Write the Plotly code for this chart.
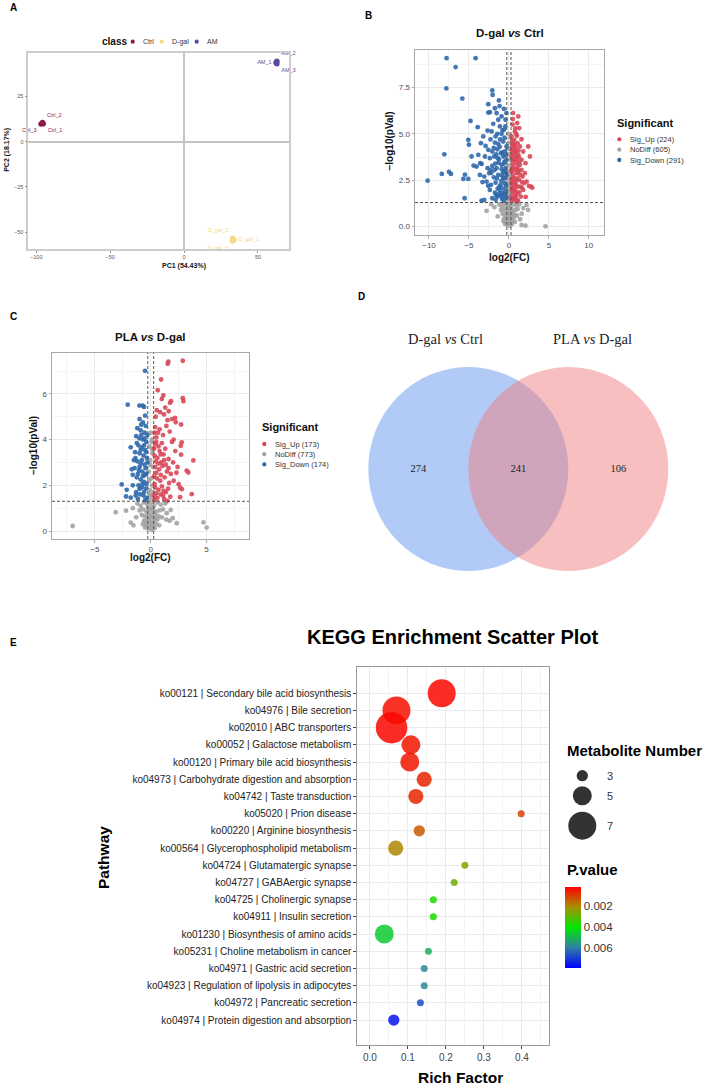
import plotly.graph_objects as go
import numpy as np

W, H = 709, 1085
def px(x): return x / W
def py(y): return 1 - y / H

FONT = "Liberation Sans, Arial, sans-serif"
SERIF = "Liberation Serif, Times New Roman, serif"

# ---------------- DATA ----------------
# Panel A: PCA scores
pca_groups = ["Ctrl", "D-gal", "AM"]
pca_colors = ["#8E1A4B", "#F3D98A", "#5A4A9C"]
pca_names = [["Ctrl_1", "Ctrl_2", "Ctrl_3"], ["D_gal_1", "D_gal_2", "D_gal_3"], ["AM_1", "AM_2", "AM_3"]]
pca_pc1 = [[-95.3, -95.8, -96.8], [33.8, 33.0, 32.7], [62.2, 62.8, 62.8]]
pca_pc2 = [[9.9, 10.6, 9.8], [-54.4, -53.4, -55.0], [43.6, 44.5, 43.1]]
pca_textpos = [["bottom right", "top right", "bottom left"],
               ["middle right", "top left", "bottom left"],
               ["middle left", "top right", "bottom right"]]

# Panel B: volcano D-gal vs Ctrl  (log2FC, -log10 p)
b_counts = [224, 605, 291]
b_up = [(0.54,6.12),(1.17,5.94),(1.04,5.58),(1.29,5.31),(1.58,4.71),(2.42,4.32),(2.63,3.78),(2.75,2.16),(2.92,2.1),
        (2.08,3.42),(1.79,4.05),(1.58,3.6),(1.38,3.33),(2.0,2.88),(2.21,2.43),(1.79,1.98),(1.5,1.62),(0.96,1.44),
        (0.33,1.47),(0.75,5.13),(0.33,4.86),(0.67,4.68),(1.08,4.5),(0.42,4.32),(0.88,4.23),(1.38,4.32),(0.58,3.96),
        (1.17,3.87),(0.33,3.78),(0.83,3.6),(0.54,3.33),(1.08,3.24),(1.58,3.06),(0.42,2.97),(0.96,2.88),(0.67,2.61),
        (1.25,2.52),(0.33,2.34),(0.88,2.25),(1.42,2.16),(0.54,1.89),(1.08,1.8),(0.33,1.62),(0.75,1.53),
        (0.45,5.5),(0.9,5.0),(0.6,4.45),(1.2,4.1),(0.35,4.1),(0.75,4.0),(1.0,3.7),(0.5,3.55),(1.3,3.5),(0.4,3.15),
        (0.7,3.1),(1.15,2.95),(1.7,2.7),(0.5,2.75),(0.85,2.45),(1.05,2.15),(0.4,2.1),(0.65,2.0),(1.3,1.85),(0.9,1.65),
        (0.45,1.45),(1.9,2.35),(2.5,2.2),(1.6,2.1),(0.3,3.0),(0.6,2.4),(1.0,4.9),(0.8,5.3),(1.15,1.4),(2.1,1.6),
        (0.4,4.6),(0.55,4.2),(0.7,3.8),(0.95,3.45),(1.2,3.0),(0.35,2.55),(0.6,2.2),(0.8,1.95),(1.1,2.6),(1.4,2.8),
        (0.45,3.65),(0.9,4.05),(1.25,3.75),(0.65,1.7),(0.38,1.95),(1.0,1.35),(1.65,2.4),(0.5,5.8),(0.75,4.4),(1.05,3.1)]
b_nodiff = [(0.0,4.5),(0.1,4.2),(-0.15,3.9),(0.2,3.6),(-0.05,3.3),(0.12,3.0),(-0.2,2.8),(0.05,2.5),(0.18,2.2),
            (-0.1,2.0),(0.0,1.8),(0.15,1.6),(-0.18,1.5),(0.08,1.35),(-0.05,5.0),(0.2,4.8),
            (-1.2,1.2),(-0.9,1.1),(-0.6,1.25),(-0.3,1.15),(0.0,1.2),(0.3,1.1),(0.6,1.25),(0.9,1.15),(1.3,1.2),
            (-1.0,0.9),(-0.7,0.95),(-0.4,0.85),(-0.1,0.9),(0.2,0.95),(0.5,0.85),(0.8,0.9),(1.1,0.95),(-0.8,0.7),
            (-0.5,0.65),(-0.2,0.7),(0.1,0.6),(0.4,0.7),(0.7,0.65),(1.0,0.6),(-0.6,0.45),(-0.3,0.5),(0.0,0.4),
            (0.3,0.45),(0.6,0.5),(-0.4,0.25),(-0.1,0.3),(0.2,0.2),(0.5,0.3),(-0.2,0.1),(0.1,0.05),(0.35,0.12),
            (-0.5,0.15),(0.0,0.15),(-1.4,0.55),(1.4,0.4),
            (-0.25,1.0),(0.25,0.8),(-0.15,0.55),(0.15,0.35),(-0.35,0.35),(0.45,0.55),(-0.7,0.3),(0.75,0.25),
            (0.0,0.7),(0.05,1.0),(-0.05,2.3),(0.1,3.9),(-0.1,4.2),(0.0,2.7),
            (-2.8,0.85),(4.58,0.02),(1.58,0.09),(2.08,0.05),(2.2,1.17),(2.4,0.9),(1.8,1.0),(-1.8,1.05),(-2.2,1.2),(1.6,0.7)]
b_down = [(-7.8,9.08),(-4.17,9.08),(-6.67,8.6),(-7.83,7.45),(-5.83,6.9),(-2.08,7.34),(-2.04,7.1),(-2.58,6.6),
          (-1.25,6.8),(-4.8,5.7),(-3.9,5.36),(-5.08,4.68),(-5.0,4.42),(-8.08,3.9),(-4.67,3.78),(-8.4,2.84),(-7.5,2.95),
          (-7.25,2.84),(-10.17,2.48),(-5.7,2.57),(-5.5,2.8),(-5.08,2.57),(-5.54,1.53),(-3.42,1.4),(-4.42,3.29),(-3.58,3.42),
          (-2.58,6.15),(-2.38,6.17),(-1.75,6.38),(-1.54,6.12),(-1.17,6.5),(-0.63,6.35),(-0.31,6.12),(-0.92,5.94),
          (-1.33,5.76),(-1.96,5.54),(-2.67,5.18),(-2.17,5.13),(-1.13,5.4),(-0.63,5.22),(-0.42,5.76),(-3.21,4.86),
          (-1.67,4.86),(-0.92,5.0),(-3.5,4.5),(-2.92,4.35),(-1.75,4.53),(-1.33,4.46),(-0.71,4.59),(-0.3,4.32),
          (-2.58,4.14),(-2.08,4.05),(-1.46,4.17),(-1.0,3.96),(-0.5,4.05),(-3.83,3.87),(-3.0,3.78),(-2.38,3.69),
          (-1.83,3.78),(-1.25,3.63),(-0.71,3.78),(-0.3,3.6),(-4.04,3.24),(-3.42,3.38),(-2.67,3.15),(-2.08,3.27),
          (-1.54,3.15),(-0.92,3.33),(-0.42,3.15),(-3.63,2.79),(-3.08,2.7),(-2.46,2.88),(-1.88,2.66),(-1.33,2.79),
          (-0.71,2.61),(-0.29,2.79),(-2.79,2.43),(-2.25,2.25),(-1.67,2.37),(-1.04,2.23),(-0.5,2.34),(-2.38,1.98),
          (-1.75,1.83),(-1.17,1.98),(-0.63,1.8),(-2.08,1.53),(-1.42,1.62),(-0.83,1.47),(-0.29,1.58),(-3.08,1.44),
          (-1.9,4.25),(-1.6,3.9),(-1.3,3.45),(-1.1,4.7),(-0.85,4.0),(-0.55,3.5),(-0.4,2.95),(-1.5,2.6),(-1.2,2.15),
          (-0.95,2.45),(-0.7,2.05),(-0.45,1.7),(-1.8,3.05),(-1.4,3.7),(-1.05,1.65),(-0.75,2.9),(-0.35,2.2),
          (-2.2,2.9),(-1.65,1.45),(-1.25,1.75),(-0.9,3.1),(-0.6,1.4),
          (-0.45,5.4),(-0.8,5.2),(-1.45,5.0),(-2.3,4.7),(-0.55,4.8),(-1.15,4.3),(-0.4,3.85),(-0.65,3.4),(-1.7,3.4),
          (-2.3,3.05),(-0.5,2.6),(-0.85,2.75),(-1.4,2.05),(-0.35,1.9),(-0.95,1.8),(-1.6,1.7),(-2.6,2.2),(-0.75,1.6),
          (-3.3,2.4),(-0.55,3.0)]

# Panel C: volcano PLA vs D-gal
c_counts = [173, 773, 174]
c_up = [(1.58,7.41),(1.52,7.32),(2.87,7.45),(0.93,6.63),(1.13,5.93),(0.63,6.16),(0.99,5.78),(1.82,5.68),(1.73,5.61),
        (2.87,5.81),(2.93,5.68),(0.54,5.29),(0.84,5.2),(1.19,5.1),(1.61,5.24),(2.18,4.95),(2.24,4.76),(2.72,4.66),
        (2.78,3.88),(2.69,3.73),(2.72,3.34),(3.82,3.09),(3.22,2.64),(3.37,2.56),(3.67,1.61),(2.63,1.9),(2.78,1.83),
        (2.63,1.48),(1.49,1.32),
        (0.35,4.3),(0.5,4.1),(0.8,4.45),(1.1,4.2),(1.4,4.6),(1.7,4.35),(0.4,3.8),(0.7,3.7),(1.0,3.85),(1.3,3.6),
        (1.9,3.9),(2.2,3.5),(0.35,3.3),(0.6,3.2),(0.9,3.35),(1.2,3.1),(1.6,3.15),(2.0,3.0),(2.4,2.8),(0.4,2.8),
        (0.75,2.7),(1.05,2.85),(1.45,2.6),(1.8,2.5),(2.3,2.55),(0.3,2.4),(0.55,2.3),(0.85,2.2),(1.25,2.35),
        (1.65,2.1),(2.05,2.2),(0.4,1.9),(0.7,1.8),(1.0,1.95),(1.35,1.7),(0.3,1.55),(0.6,1.45),(0.9,1.6),(1.2,1.4),
        (1.75,1.5),(0.45,5.0),(1.3,5.4),(1.9,4.9),(1.5,4.85),(0.3,3.6),(0.95,3.0),(0.5,2.55),(2.5,2.05),(1.55,1.85),
        (0.35,1.35),
        (0.5,3.9),(0.8,3.5),(1.15,3.35),(0.45,3.05),(0.7,2.95),(1.35,2.9),(0.35,2.05),(0.9,2.45),(1.15,1.75),
        (0.5,1.65),(1.6,2.75),(0.65,4.3),(2.05,4.0),(0.4,4.55),(1.1,1.55)]
c_nodiff = [(0.0,4.3),(0.1,4.0),(-0.12,3.7),(0.15,3.4),(-0.05,3.1),(0.2,2.8),(-0.18,2.6),(0.05,2.3),(0.12,2.0),
            (-0.1,1.8),(0.0,1.55),(0.18,1.4),(-0.2,1.35),(0.08,3.9),(-0.15,2.2),
            (-1.2,1.2),(-0.9,1.1),(-0.6,1.25),(-0.3,1.15),(0.0,1.2),(0.3,1.1),(0.6,1.25),(0.9,1.15),(1.3,1.2),
            (-1.0,0.9),(-0.7,0.95),(-0.4,0.85),(-0.1,0.9),(0.2,0.95),(0.5,0.85),(0.8,0.9),(1.1,0.95),(-0.8,0.7),
            (-0.5,0.65),(-0.2,0.7),(0.1,0.6),(0.4,0.7),(0.7,0.65),(1.0,0.6),(-0.6,0.45),(-0.3,0.5),(0.0,0.4),
            (0.3,0.45),(0.6,0.5),(-0.4,0.25),(-0.1,0.3),(0.2,0.2),(0.5,0.3),(-0.2,0.1),(0.1,0.05),(0.35,0.12),
            (-0.5,0.15),(0.0,0.15),(1.4,0.5),
            (-0.25,1.0),(0.25,0.8),(-0.15,0.55),(0.15,0.35),(-0.35,0.35),(0.45,0.55),(-0.7,0.3),(0.75,0.25),
            (0.0,0.7),(0.05,1.0),(-0.05,2.9),(0.1,3.6),(-0.1,1.6),(0.2,1.7),(1.7,0.45),(-1.3,0.6),
            (-6.99,0.22),(-3.13,0.82),(-2.21,0.89),(-1.79,0.37),(-1.55,0.25),(4.72,0.38),(5.01,0.15),(2.33,0.34),
            (1.97,0.56),(1.79,0.92),(1.43,0.78),(-1.6,1.0)]
c_down = [(-0.51,7.01),(-2.06,5.53),(-1.01,5.49),(-0.72,5.49),(-0.6,5.43),(-1.79,3.66),(-1.37,3.19),(-1.61,2.46),
          (-2.6,2.04),(-2.15,1.8),(-2.21,1.51),(-1.79,1.46),
          (-1.0,4.9),(-0.7,4.75),(-0.45,4.6),(-1.2,4.5),(-0.9,4.4),(-0.55,4.3),(-1.3,4.15),(-1.0,4.05),(-0.7,4.0),
          (-0.4,3.9),(-1.1,3.75),(-0.8,3.65),(-0.5,3.55),(-1.4,3.45),(-1.0,3.4),(-0.65,3.3),(-0.35,3.2),(-1.2,3.05),
          (-0.9,2.95),(-0.55,2.9),(-1.45,2.75),(-1.05,2.65),(-0.75,2.6),(-0.4,2.5),(-1.25,2.35),(-0.9,2.25),
          (-0.6,2.15),(-1.1,2.0),(-0.8,1.9),(-0.45,1.85),(-1.3,1.7),(-0.95,1.6),(-0.65,1.55),(-0.35,1.45),
          (-1.15,1.4),(-0.85,4.65),(-0.6,3.75),(-0.3,4.2),(-1.5,3.1),(-0.45,2.75),(-0.7,2.4),(-1.0,1.85),
          (-0.5,1.35),(-1.6,2.0),(-0.3,3.0),
          (-0.5,5.05),(-0.85,4.2),(-0.55,4.05),(-1.25,3.85),(-0.4,3.45),(-0.8,3.1),(-1.15,2.5),(-0.55,2.45),
          (-0.75,2.05),(-1.0,2.8),(-0.4,2.05),(-0.6,1.7),(-1.35,1.55),(-0.9,3.55),(-1.7,2.7)]

sig_names = ["Sig_Up", "NoDiff", "Sig_Down"]
sig_colors = ["#D8485A", "#A3A3A3", "#2F69AD"]
fc_cut = 0.263
p_cut = 1.301

# Panel D: Venn
venn_sets = ["D-gal <i>vs</i> Ctrl", "PLA <i>vs</i> D-gal"]
venn_counts = [274, 241, 106]   # only set 1, shared, only set 2

# Panel E: KEGG enrichment
kegg_ids = ["ko00121", "ko04976", "ko02010", "ko00052", "ko00120", "ko04973", "ko04742", "ko05020", "ko00220",
            "ko00564", "ko04724", "ko04727", "ko04725", "ko04911", "ko01230", "ko05231", "ko04971", "ko04923",
            "ko04972", "ko04974"]
kegg_names = ["Secondary bile acid biosynthesis", "Bile secretion", "ABC transporters", "Galactose metabolism",
              "Primary bile acid biosynthesis", "Carbohydrate digestion and absorption", "Taste transduction",
              "Prion disease", "Arginine biosynthesis", "Glycerophospholipid metabolism", "Glutamatergic synapse",
              "GABAergic synapse", "Cholinergic synapse", "Insulin secretion", "Biosynthesis of amino acids",
              "Choline metabolism in cancer", "Gastric acid secretion", "Regulation of lipolysis in adipocytes",
              "Pancreatic secretion", "Protein digestion and absorption"]
rich_factor = [0.189, 0.070, 0.057, 0.108, 0.105, 0.143, 0.121, 0.398, 0.130, 0.068,
               0.250, 0.222, 0.167, 0.167, 0.038, 0.154, 0.143, 0.143, 0.133, 0.063]
metab_num = [7, 7, 8, 5, 5, 4, 4, 2, 3, 4, 2, 2, 2, 2, 5, 2, 2, 2, 2, 3]
p_value = [0.0003, 0.0004, 0.0003, 0.0005, 0.0005, 0.0007, 0.0007, 0.0011, 0.0014, 0.0020,
           0.0024, 0.0028, 0.0037, 0.0037, 0.0046, 0.0051, 0.0058, 0.0058, 0.0067, 0.0076]
size_breaks = [3, 5, 7]
p_ticks = [0.002, 0.004, 0.006]
p_lo, p_hi = 0.0002, 0.0079

def bubble_d(n):
    return float(np.interp(n, [2, 3, 5, 7, 8], [7.0, 11.3, 19.0, 28.0, 31.5]))

# ---------------- FIGURE ----------------
fig = go.Figure()

# A
for g, col, names, xs, ys, tp in zip(pca_groups, pca_colors, pca_names, pca_pc1, pca_pc2, pca_textpos):
    fig.add_trace(go.Scatter(x=xs, y=ys, mode="markers+text", text=names, textposition=tp,
                             textfont=dict(size=5.5, color=col, family=FONT),
                             marker=dict(size=5.5, color=col), xaxis="x", yaxis="y", showlegend=False,
                             cliponaxis=False))

# B and C volcano (draw NoDiff first, then Up, then Down)
def add_volcano(up, nodiff, down, xa, ya):
    for pts, col in [(nodiff, sig_colors[1]), (up, sig_colors[0]), (down, sig_colors[2])]:
        fig.add_trace(go.Scatter(x=[p[0] for p in pts], y=[p[1] for p in pts], mode="markers",
                                 marker=dict(size=4.8, color=col, opacity=0.9, line=dict(width=0)),
                                 xaxis=xa, yaxis=ya, showlegend=False))

add_volcano(b_up, b_nodiff, b_down, "x2", "y2")
add_volcano(c_up, c_nodiff, c_down, "x3", "y3")

# D venn counts
fig.add_trace(go.Scatter(x=[-1.0, 0.0, 1.0], y=[0, 0, 0], mode="text", text=[str(v) for v in venn_counts],
                         textfont=dict(size=10.5, family=SERIF, color="#222"), xaxis="x4", yaxis="y4",
                         showlegend=False))

# E bubbles
labels = [f"{i} | {n}" for i, n in zip(kegg_ids, kegg_names)]
cscale = [[0.0, "#0000FF"], [0.25, "#2F7FA8"], [0.5, "#00E800"], [0.75, "#A89000"], [1.0, "#FF0000"]]
fig.add_trace(go.Scatter(
    x=rich_factor, y=labels, mode="markers", xaxis="x5", yaxis="y5", showlegend=False,
    marker=dict(size=[bubble_d(n) for n in metab_num], sizemode="diameter", opacity=0.85,
                color=[-p for p in p_value], cmin=-p_hi, cmax=-p_lo, colorscale=cscale, line=dict(width=0),
                colorbar=dict(x=px(565), xanchor="left", xpad=0, y=py(887.3), yanchor="top", ypad=0,
                              len=81, lenmode="pixels", thickness=16, thicknessmode="pixels",
                              outlinewidth=0, ticks="", tickvals=[-t for t in p_ticks],
                              ticktext=[f"{t:.3f}" for t in p_ticks],
                              tickfont=dict(size=11.5, color="#333", family=FONT)))))

# ---------------- AXES ----------------
def frame(col):
    return dict(showline=True, mirror=True, linecolor=col, automargin=False)

lay = dict(
    width=W, height=H, margin=dict(l=0, r=0, t=0, b=0), template="none",
    paper_bgcolor="white", plot_bgcolor="white", font=dict(family=FONT, color="#222"),
    showlegend=False,
)
tickA = dict(size=5.5, color="#555", family=FONT)
lay["xaxis"] = dict(domain=[px(28.3), px(289)], range=[-105.4, 71], anchor="y", dtick=50, tick0=0,
                    showgrid=False, zeroline=True, zerolinecolor="#C4C4C4", zerolinewidth=1.5,
                    ticks="outside", ticklen=2, tickcolor="#999", tickfont=tickA, linewidth=1.5, **frame("#CDCDCD"))
lay["yaxis"] = dict(domain=[py(249), py(53)], range=[-59.4, 49], anchor="x", dtick=25, tick0=0,
                    showgrid=False, zeroline=True, zerolinecolor="#C4C4C4", zerolinewidth=1.5,
                    ticks="outside", ticklen=2, tickcolor="#999", tickfont=tickA, linewidth=1.5, **frame("#CDCDCD"))

tickV = dict(size=8, color="#4D4D4D", family=FONT)
def vaxis(domain, rng, anchor, dtick, minor, fmt=None):
    d = dict(domain=domain, range=rng, anchor=anchor, dtick=dtick, tick0=0, showgrid=True, gridcolor="#EBEBEB",
             gridwidth=1, minor=dict(dtick=minor, tick0=0, showgrid=True, gridcolor="#F5F5F5", gridwidth=0.6),
             zeroline=False, ticks="outside", ticklen=2.5, tickcolor="#AAAAAA", tickfont=tickV,
             linewidth=1, **frame("#A8A8A8"))
    if fmt:
        d["tickformat"] = fmt
    return d

lay["xaxis2"] = vaxis([px(415), px(604)], [-11.75, 11.9], "y2", 5, 2.5)
lay["yaxis2"] = vaxis([py(235), py(50)], [-0.45, 9.52], "x2", 2.5, 1.25, ".1f")
lay["xaxis3"] = vaxis([px(52), px(249)], [-8.84, 8.8], "y3", 5, 2.5)
lay["yaxis3"] = vaxis([py(539), py(353)], [-0.35, 7.79], "x3", 2, 1)

lay["xaxis4"] = dict(domain=[px(360), 1.0], range=[-1.583, 1.907], anchor="y4", visible=False, automargin=False)
lay["yaxis4"] = dict(domain=[py(580), py(300)], range=[-1.11, 1.69], anchor="x4", visible=False, automargin=False)

lay["xaxis5"] = dict(domain=[px(357.3), px(549.3)], range=[-0.033, 0.472], anchor="y5", dtick=0.1, tick0=0,
                     tickformat=".1f", showgrid=True, gridcolor="#EBEBEB",
                     minor=dict(dtick=0.05, tick0=0, showgrid=True, gridcolor="#F3F3F3"),
                     zeroline=False, ticks="outside", ticklen=3, tickcolor="#444",
                     tickfont=dict(size=10, color="#444", family=FONT), linewidth=1, **frame("#9A9A9A"))
lay["yaxis5"] = dict(domain=[py(1045), py(667.3)], type="category", categoryorder="array", categoryarray=labels,
                     range=[len(labels) - 1 + 1.45, -1.51], anchor="x5", showgrid=True, gridcolor="#EBEBEB",
                     zeroline=False, ticks="outside", ticklen=3, tickcolor="#444",
                     tickfont=dict(size=10, color="#222", family=FONT), linewidth=1, **frame("#9A9A9A"))

# ---------------- SHAPES ----------------
shapes = []
def dot(xp, yp, d, color):
    return dict(type="circle", xref="paper", yref="paper", xsizemode="pixel", ysizemode="pixel",
                xanchor=px(xp), yanchor=py(yp), x0=-d / 2, x1=d / 2, y0=-d / 2, y1=d / 2,
                fillcolor=color, line=dict(width=0), layer="above")

for xa, ya in [("x2", "y2"), ("x3", "y3")]:
    for v in (-fc_cut, fc_cut):
        shapes.append(dict(type="line", xref=xa, yref=f"{ya} domain", x0=v, x1=v, y0=0, y1=1,
                           line=dict(color="#555", width=1, dash="3px,2px"), layer="above"))
    shapes.append(dict(type="line", xref=f"{xa} domain", yref=ya, x0=0, x1=1, y0=p_cut, y1=p_cut,
                       line=dict(color="#555", width=1, dash="3px,2px"), layer="above"))

# Venn circles
shapes.append(dict(type="circle", xref="x4", yref="y4", x0=-1.5, x1=0.5, y0=-1.02, y1=1.02,
                   fillcolor="rgba(100,149,237,0.5)", line=dict(width=0), layer="below"))
shapes.append(dict(type="circle", xref="x4", yref="y4", x0=-0.5, x1=1.5, y0=-1.02, y1=1.02,
                   fillcolor="rgba(240,128,128,0.5)", line=dict(width=0), layer="below"))

# ---------------- ANNOTATIONS ----------------
ann = []
def text(xp, yp, s, size, bold=False, xanchor="center", angle=0, family=FONT, color="#111"):
    if bold:
        s = f"<b>{s}</b>"
    ann.append(dict(x=px(xp), y=py(yp), xref="paper", yref="paper", text=s, showarrow=False,
                    xanchor=xanchor, yanchor="middle", textangle=angle,
                    font=dict(size=size, family=family, color=color)))

# panel letters
for L, xx, yy in [("A", 13.3, 7.5), ("B", 368, 15), ("C", 13.3, 316), ("D", 361, 296), ("E", 13.3, 642.7)]:
    text(xx, yy, L, 10, bold=True, color="#000")

# A legend + titles
text(100, 41.7, "class", 10, bold=True, xanchor="left")
for g, col, dx, tx in zip(pca_groups, pca_colors, [132.7, 161.7, 196.7], [141.2, 169.8, 205.2]):
    shapes.append(dot(dx, 41.7, 4.2, col))
    text(tx, 41.9, g, 7, xanchor="left", color="#333")
text(184, 266, "PC1 (54.43%)", 7, bold=True)
text(6.8, 150, "PC2 (18.17%)", 7, bold=True, angle=-90)

# B titles + legend
text(509.5, 33, "D-gal <i>vs</i> Ctrl", 11.5, bold=True)
text(509.5, 257.5, "log2(FC)", 10, bold=True)
text(388.5, 141, "\u2212log10(pVal)", 10, bold=True, angle=-90)
text(615, 123, "Significant", 11, bold=True, xanchor="left")
for nm, col, cnt, yy in zip(sig_names, sig_colors, b_counts, [139.3, 149.7, 160]):
    shapes.append(dot(619.3, yy, 4.3, col))
    text(627.5, yy, f"{nm} ({cnt})", 7.5, xanchor="left", color="#333")

# C titles + legend
text(150.7, 336.5, "PLA <i>vs</i> D-gal", 11.5, bold=True)
text(150.7, 557, "log2(FC)", 10, bold=True)
text(33, 446, "\u2212log10(pVal)", 10, bold=True, angle=-90)
text(260, 427, "Significant", 11, bold=True, xanchor="left")
for nm, col, cnt, yy in zip(sig_names, sig_colors, c_counts, [444, 454.2, 464.4]):
    shapes.append(dot(264.3, yy, 4.3, col))
    text(272.5, yy, f"{nm} ({cnt})", 7.5, xanchor="left", color="#333")

# D set labels
text(445, 339, venn_sets[0], 14.5, family=SERIF, color="#222")
text(592, 339, venn_sets[1], 14.5, family=SERIF, color="#222")

# E titles + legends
text(453, 637, "KEGG Enrichment Scatter Plot", 20, bold=True, color="#000")
text(103, 858, "Pathway", 15.5, bold=True, angle=-90, color="#000")
text(460, 1077, "Rich Factor", 15.5, bold=True, color="#000")
text(565, 750, "Metabolite Number", 15, bold=True, xanchor="left", color="#000")
for n, yy in zip(size_breaks, [775.7, 795.7, 825.7]):
    shapes.append(dot(582.3, yy, bubble_d(n), "#333333"))
    text(604.5, yy, str(n), 11, xanchor="left", color="#333")
text(565, 869.5, "P.value", 15, bold=True, xanchor="left", color="#000")

lay["shapes"] = shapes
lay["annotations"] = ann
fig.update_layout(**lay)
fig.write_html("out.html")
